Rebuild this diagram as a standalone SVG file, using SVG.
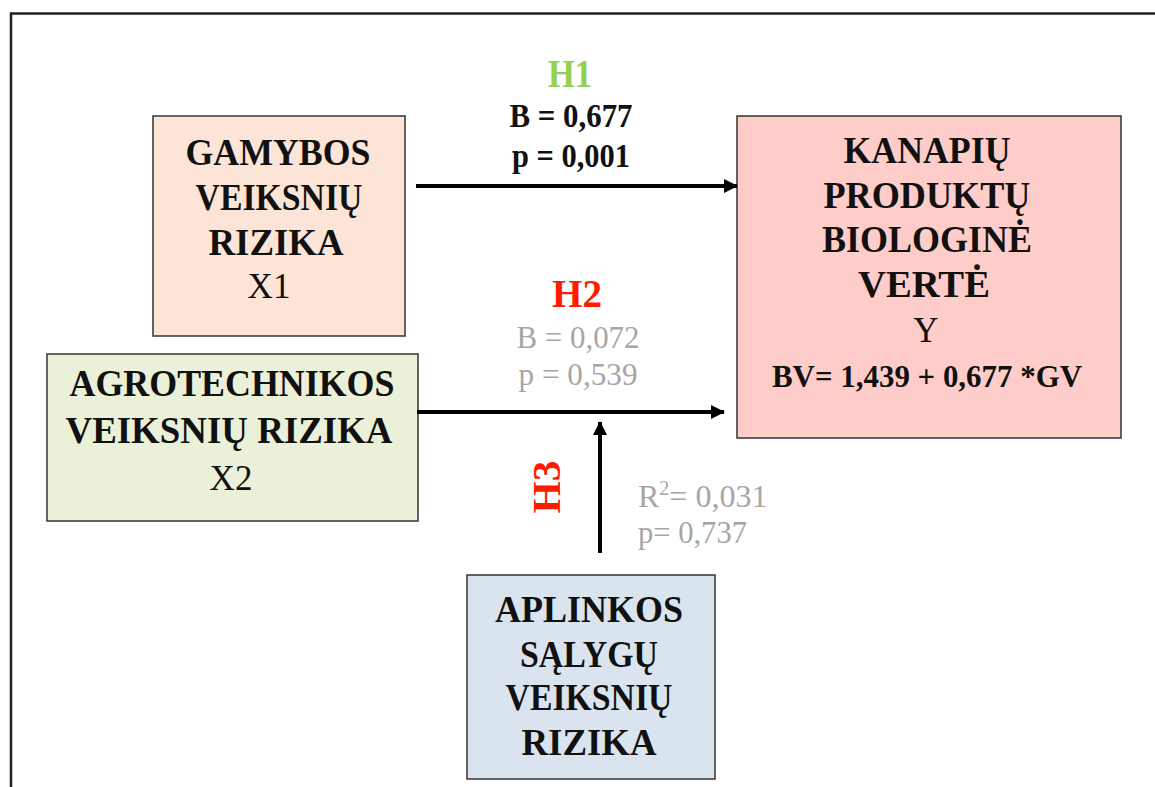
<svg xmlns="http://www.w3.org/2000/svg" width="1155" height="787" viewBox="0 0 1155 787">
  <style>
    text { font-family: "Liberation Serif", "Times New Roman", serif; text-anchor: middle; }
    .b { font-weight: bold; font-size: 37px; fill: #111; }
    .r { font-size: 35px; fill: #111; }
    .eq { font-weight: bold; font-size: 32px; fill: #111; }
    .coef { font-weight: bold; font-size: 34px; fill: #111; }
    .ns { font-size: 32px; fill: #a6a6a6; }
    .box { stroke: #333; stroke-width: 1.5; }
    .link { stroke: #000; stroke-width: 4; fill: none; marker-end: url(#arrow); }
  </style>
  <defs>
    <marker id="arrow" markerUnits="userSpaceOnUse" markerWidth="14" markerHeight="14" viewBox="0 0 14 14" refX="13" refY="7" orient="auto">
      <path d="M0,0 L14,7 L0,14 Z" fill="#000"/>
    </marker>
  </defs>

  <rect width="1155" height="787" fill="#fff"/>
  <!-- page frame -->
  <path d="M11,787 V13.5 H1155" fill="none" stroke="#222" stroke-width="2.5"/>

  <g id="node-x1">
    <rect class="box" x="153" y="116" width="252" height="220" fill="#fce4d6"/>
    <text class="b" x="278" y="165" textLength="185" lengthAdjust="spacingAndGlyphs">GAMYBOS</text>
    <text class="b" x="279" y="210" textLength="167" lengthAdjust="spacingAndGlyphs">VEIKSNIŲ</text>
    <text class="b" x="276" y="255" textLength="135" lengthAdjust="spacingAndGlyphs">RIZIKA</text>
    <text class="r" x="269" y="298">X1</text>
  </g>

  <g id="node-x2">
    <rect class="box" x="47" y="354" width="371" height="167" fill="#ebf0d9"/>
    <text class="b" x="232" y="396" textLength="325" lengthAdjust="spacingAndGlyphs">AGROTECHNIKOS</text>
    <text class="b" x="229" y="443" textLength="327" lengthAdjust="spacingAndGlyphs">VEIKSNIŲ RIZIKA</text>
    <text class="r" x="231" y="490">X2</text>
  </g>

  <g id="node-y">
    <rect class="box" x="737" y="116" width="384" height="322" fill="#ffcdc9"/>
    <text class="b" x="927" y="163" textLength="167" lengthAdjust="spacingAndGlyphs">KANAPIŲ</text>
    <text class="b" x="927" y="208" textLength="207" lengthAdjust="spacingAndGlyphs">PRODUKTŲ</text>
    <text class="b" x="927" y="252" textLength="210" lengthAdjust="spacingAndGlyphs">BIOLOGINĖ</text>
    <text class="b" x="924" y="297" textLength="132" lengthAdjust="spacingAndGlyphs">VERTĖ</text>
    <text class="r" x="926" y="342">Y</text>
    <text class="eq" x="927" y="387" textLength="310" lengthAdjust="spacingAndGlyphs">BV= 1,439 + 0,677 *GV</text>
  </g>

  <g id="node-env">
    <rect class="box" x="467" y="575" width="248" height="204" fill="#d9e4ef"/>
    <text class="b" x="589" y="622" textLength="188" lengthAdjust="spacingAndGlyphs">APLINKOS</text>
    <text class="b" x="589" y="667" textLength="138" lengthAdjust="spacingAndGlyphs">SĄLYGŲ</text>
    <text class="b" x="589" y="710" textLength="167" lengthAdjust="spacingAndGlyphs">VEIKSNIŲ</text>
    <text class="b" x="589" y="755" textLength="135" lengthAdjust="spacingAndGlyphs">RIZIKA</text>
  </g>

  <g id="connectors">
    <line class="link" x1="416" y1="186" x2="737" y2="186"/>
    <line class="link" x1="417" y1="412" x2="724" y2="412"/>
    <line class="link" x1="600" y1="553" x2="600" y2="422"/>
  </g>

  <g id="labels">
    <text x="570" y="87" textLength="44" lengthAdjust="spacingAndGlyphs" style="font-weight:bold;font-size:41px;fill:#92d050">H1</text>
    <text class="coef" x="571" y="127" textLength="123" lengthAdjust="spacingAndGlyphs">B = 0,677</text>
    <text class="coef" x="571" y="167" textLength="118" lengthAdjust="spacingAndGlyphs">p = 0,001</text>

    <text x="577" y="307" textLength="50" lengthAdjust="spacingAndGlyphs" style="font-weight:bold;font-size:41px;fill:#ff1a00">H2</text>
    <text class="ns" x="578" y="348" textLength="123" lengthAdjust="spacingAndGlyphs">B = 0,072</text>
    <text class="ns" x="578" y="385" textLength="119" lengthAdjust="spacingAndGlyphs">p = 0,539</text>

    <text x="0" y="0" transform="translate(560,487) rotate(-90)" textLength="53" lengthAdjust="spacingAndGlyphs" style="font-weight:bold;font-size:41px;fill:#ff1a00">H3</text>
    <text class="ns" x="638" y="507" style="text-anchor:start">R<tspan dy="-12" font-size="20">2</tspan><tspan dy="12">= 0,031</tspan></text>
    <text class="ns" x="638" y="543" style="text-anchor:start" textLength="109" lengthAdjust="spacingAndGlyphs">p= 0,737</text>
  </g>
</svg>
